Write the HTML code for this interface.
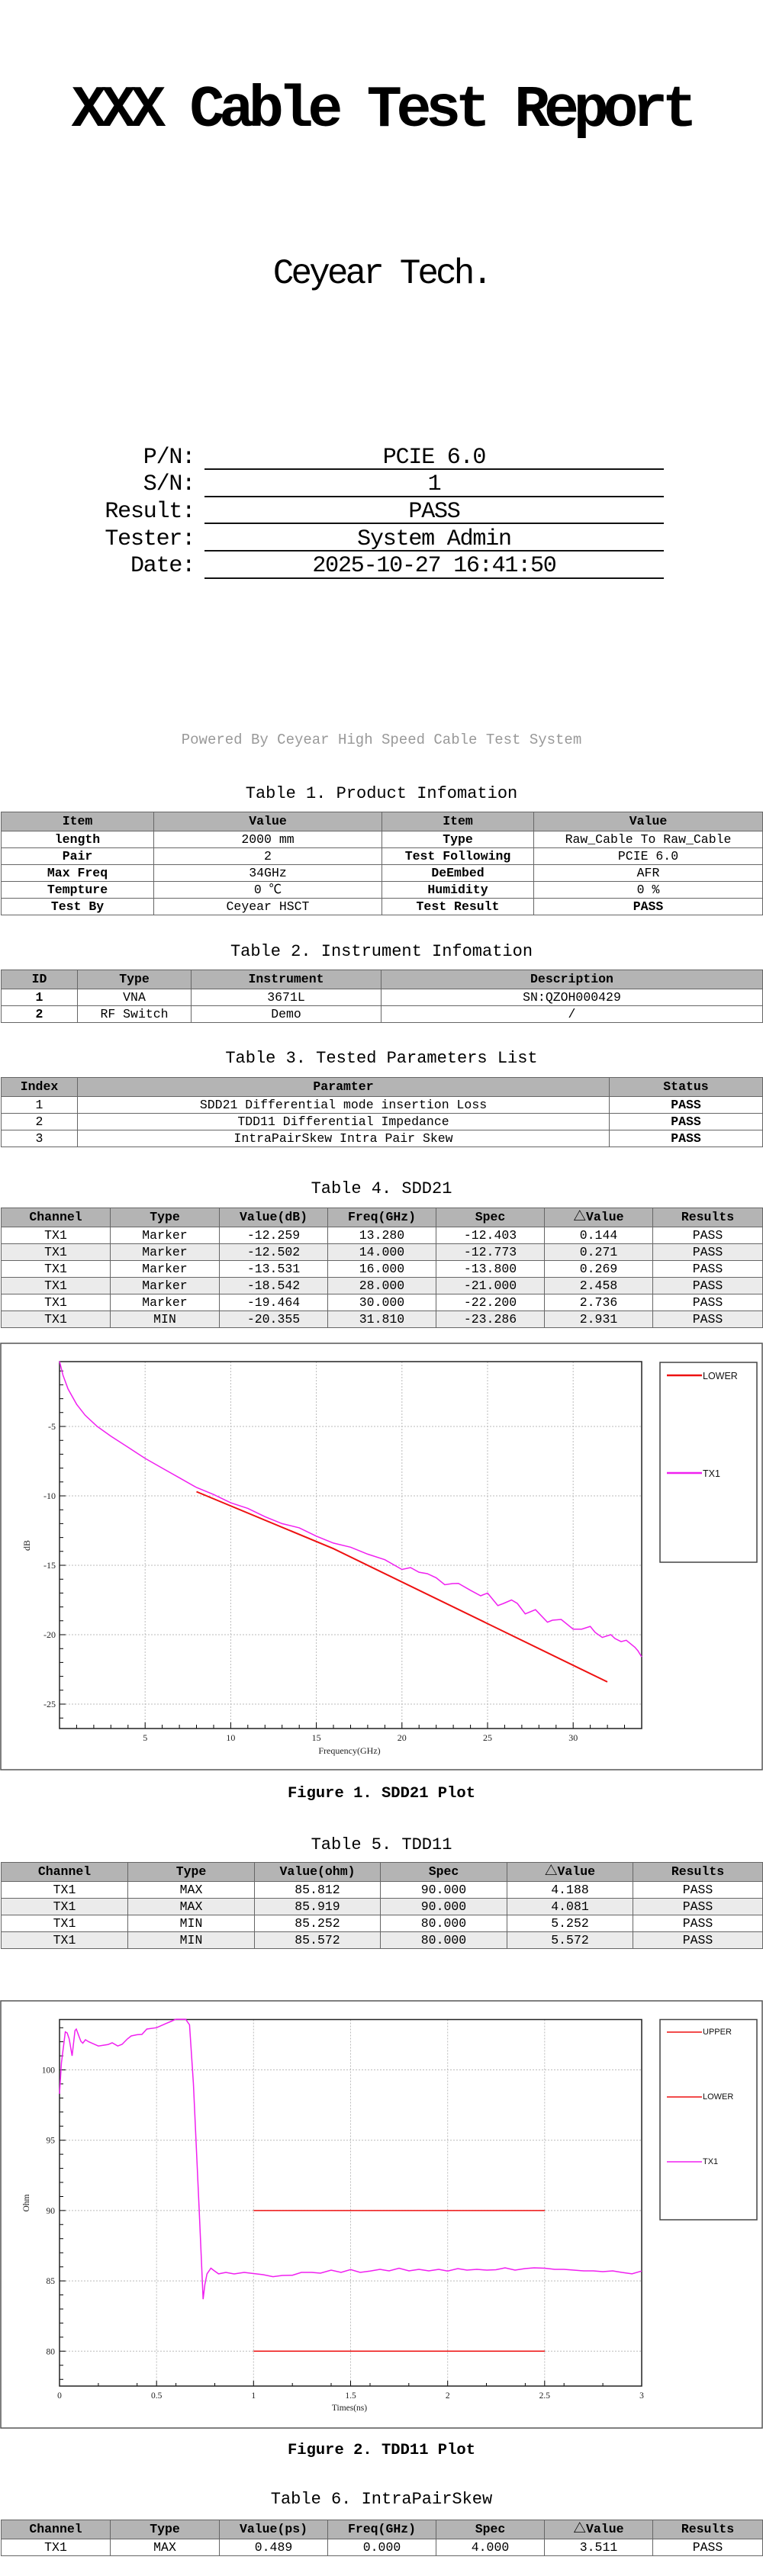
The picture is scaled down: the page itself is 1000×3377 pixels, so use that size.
<!DOCTYPE html>
<html><head><meta charset="utf-8">
<style>
body{margin:0;width:1000px;height:3377px;position:relative;background:#fff;font-family:"Liberation Mono","Noto Sans CJK SC",monospace;color:#000;overflow:hidden}
.a{position:absolute;white-space:nowrap}
.c{left:0;width:1000px;text-align:center}
.cap{font-size:22px;line-height:22px;letter-spacing:0}
.fig{font-size:20.5px;line-height:22px;font-weight:bold}
table{position:absolute;left:1px;width:998px;border-collapse:collapse;table-layout:fixed;font-size:16.5px}
td,th{border:1px solid #666;text-align:center;padding:0;overflow:hidden;white-space:nowrap;line-height:18px}
th{background:#b4b4b4;height:24px;font-weight:bold}
td{height:21px}
tr.g td{background:#ebebeb}
.b{font-weight:bold}
.lab{font-size:30px;line-height:30px;letter-spacing:-1.2px}
.ul{position:absolute;left:268px;width:602px;height:2px;background:#111}
</style></head><body>

<div class="a c" style="top:107px;font-size:77px;line-height:77px;letter-spacing:-7.5px;font-weight:bold">XXX Cable Test Report</div>
<div class="a c" style="top:336px;font-size:46px;line-height:46px;letter-spacing:-3.9px">Ceyear Tech.</div>

<div class="a lab" style="right:745px;top:585px">P/N:</div>
<div class="a lab" style="right:745px;top:620px">S/N:</div>
<div class="a lab" style="right:745px;top:656px">Result:</div>
<div class="a lab" style="right:745px;top:692px">Tester:</div>
<div class="a lab" style="right:745px;top:727px">Date:</div>
<div class="a lab" style="left:268px;width:602px;text-align:center;top:585px">PCIE 6.0</div>
<div class="a lab" style="left:268px;width:602px;text-align:center;top:620px">1</div>
<div class="a lab" style="left:268px;width:602px;text-align:center;top:656px">PASS</div>
<div class="a lab" style="left:268px;width:602px;text-align:center;top:692px">System Admin</div>
<div class="a lab" style="left:268px;width:602px;text-align:center;top:727px">2025-10-27 16:41:50</div>
<div class="ul" style="top:614px"></div>
<div class="ul" style="top:650px"></div>
<div class="ul" style="top:685px"></div>
<div class="ul" style="top:721px"></div>
<div class="ul" style="top:757px"></div>

<div class="a c" style="top:961px;font-size:19px;line-height:19px;color:#999">Powered By Ceyear High Speed Cable Test System</div>

<div class="a c cap" style="top:1030px">Table 1. Product Infomation</div>
<table style="top:1064px">
<colgroup><col style="width:200px"><col style="width:299px"><col style="width:199px"><col style="width:300px"></colgroup>
<tr><th>Item</th><th>Value</th><th>Item</th><th>Value</th></tr>
<tr><td class="b">length</td><td>2000 mm</td><td class="b">Type</td><td>Raw_Cable To Raw_Cable</td></tr>
<tr><td class="b">Pair</td><td>2</td><td class="b">Test Following</td><td>PCIE 6.0</td></tr>
<tr><td class="b">Max Freq</td><td>34GHz</td><td class="b">DeEmbed</td><td>AFR</td></tr>
<tr><td class="b">Tempture</td><td>0 ℃</td><td class="b">Humidity</td><td>0 %</td></tr>
<tr><td class="b">Test By</td><td>Ceyear HSCT</td><td class="b">Test Result</td><td class="b">PASS</td></tr>
</table>

<div class="a c cap" style="top:1237px">Table 2. Instrument Infomation</div>
<table style="top:1271px">
<colgroup><col style="width:100px"><col style="width:149px"><col style="width:249px"><col style="width:500px"></colgroup>
<tr><th>ID</th><th>Type</th><th>Instrument</th><th>Description</th></tr>
<tr><td class="b">1</td><td>VNA</td><td>3671L</td><td>SN:QZOH000429</td></tr>
<tr><td class="b">2</td><td>RF Switch</td><td>Demo</td><td>/</td></tr>
</table>

<div class="a c cap" style="top:1377px">Table 3. Tested Parameters List</div>
<table style="top:1412px">
<colgroup><col style="width:100px"><col style="width:697px"><col style="width:201px"></colgroup>
<tr><th>Index</th><th>Paramter</th><th>Status</th></tr>
<tr><td>1</td><td>SDD21 Differential mode insertion Loss</td><td class="b">PASS</td></tr>
<tr><td>2</td><td>TDD11 Differential Impedance</td><td class="b">PASS</td></tr>
<tr><td>3</td><td>IntraPairSkew Intra Pair Skew</td><td class="b">PASS</td></tr>
</table>

<div class="a c cap" style="top:1548px">Table 4. SDD21</div>
<table style="top:1583px">
<colgroup><col style="width:143px"><col style="width:143px"><col style="width:142px"><col style="width:142px"><col style="width:142px"><col style="width:142px"><col style="width:144px"></colgroup>
<tr><th>Channel</th><th>Type</th><th>Value(dB)</th><th>Freq(GHz)</th><th>Spec</th><th>△Value</th><th>Results</th></tr>
<tr><td>TX1</td><td>Marker</td><td>-12.259</td><td>13.280</td><td>-12.403</td><td>0.144</td><td>PASS</td></tr>
<tr class="g"><td>TX1</td><td>Marker</td><td>-12.502</td><td>14.000</td><td>-12.773</td><td>0.271</td><td>PASS</td></tr>
<tr><td>TX1</td><td>Marker</td><td>-13.531</td><td>16.000</td><td>-13.800</td><td>0.269</td><td>PASS</td></tr>
<tr class="g"><td>TX1</td><td>Marker</td><td>-18.542</td><td>28.000</td><td>-21.000</td><td>2.458</td><td>PASS</td></tr>
<tr><td>TX1</td><td>Marker</td><td>-19.464</td><td>30.000</td><td>-22.200</td><td>2.736</td><td>PASS</td></tr>
<tr class="g"><td>TX1</td><td>MIN</td><td>-20.355</td><td>31.810</td><td>-23.286</td><td>2.931</td><td>PASS</td></tr>
</table>

<svg class="a" style="left:0;top:1760px" width="1000" height="562" font-family="Liberation Sans, sans-serif">
<rect x="1" y="1" width="998" height="559" fill="none" stroke="#555" stroke-width="1.5"/>
<g stroke="#bbb" stroke-dasharray="2,2" stroke-width="1">
<line x1="190.2" y1="25" x2="190.2" y2="506"/><line x1="302.4" y1="25" x2="302.4" y2="506"/><line x1="414.6" y1="25" x2="414.6" y2="506"/><line x1="526.8" y1="25" x2="526.8" y2="506"/><line x1="639" y1="25" x2="639" y2="506"/><line x1="751.2" y1="25" x2="751.2" y2="506"/>
<line x1="78" y1="110" x2="841" y2="110"/><line x1="78" y1="201" x2="841" y2="201"/><line x1="78" y1="292" x2="841" y2="292"/><line x1="78" y1="383" x2="841" y2="383"/><line x1="78" y1="474" x2="841" y2="474"/>
</g>
<g stroke="#000" stroke-width="1">
<path d="M100.4 506v-5M122.9 506v-5M145.3 506v-5M167.8 506v-5M190.2 506v-8M212.6 506v-5M235.1 506v-5M257.5 506v-5M280 506v-5M302.4 506v-8M324.8 506v-5M347.3 506v-5M369.7 506v-5M392.2 506v-5M414.6 506v-8M437 506v-5M459.5 506v-5M481.9 506v-5M504.4 506v-5M526.8 506v-8M549.2 506v-5M571.7 506v-5M594.1 506v-5M616.6 506v-5M639 506v-8M661.4 506v-5M683.9 506v-5M706.3 506v-5M728.8 506v-5M751.2 506v-8M773.6 506v-5M796.1 506v-5M818.5 506v-5"/>
<path d="M78 37.2h5M78 55.4h5M78 73.6h5M78 91.8h5M78 110h8M78 128.2h5M78 146.4h5M78 164.6h5M78 182.8h5M78 201h8M78 219.2h5M78 237.4h5M78 255.6h5M78 273.8h5M78 292h8M78 310.2h5M78 328.4h5M78 346.6h5M78 364.8h5M78 383h8M78 401.2h5M78 419.4h5M78 437.6h5M78 455.8h5M78 474h8M78 492.2h5"/>
</g>
<rect x="78" y="25" width="763" height="481" fill="none" stroke="#222" stroke-width="1.5"/>
<g font-size="12" fill="#222" font-family="Liberation Serif, serif">
<g text-anchor="middle"><text x="190.2" y="522">5</text><text x="302.4" y="522">10</text><text x="414.6" y="522">15</text><text x="526.8" y="522">20</text><text x="639" y="522">25</text><text x="751.2" y="522">30</text>
<text x="458" y="539">Frequency(GHz)</text></g>
<g text-anchor="end"><text x="73" y="114">-5</text><text x="73" y="205">-10</text><text x="73" y="296">-15</text><text x="73" y="387">-20</text><text x="73" y="478">-25</text></g>
<text transform="translate(39,266) rotate(-90)" text-anchor="middle">dB</text>
</g>
<polyline fill="none" stroke="#f020f0" stroke-width="1.5" points="78,24.5 82.5,42.7 89.2,60.9 100.4,80.9 111.7,95.4 127.4,110 145.3,122.7 167.8,137.3 190.2,151.9 212.6,164.6 235.1,177.3 257.5,190 279.9,199.2 302.4,210.1 324.8,217.4 347.3,228.3 369.7,237.4 392.2,242.9 414.6,253.8 437,262.9 459.5,268.3 481.9,277.4 504.4,284.7 526.8,297.5 538,295 549.2,301.1 560,303 571.7,308.4 582.9,317.5 593,316 600.8,315.7 616.6,324.8 630,332 639,328.4 652.5,344.8 660,342 670.4,337.5 678,342 688.4,355.7 701.8,350.2 717.5,366.6 724,364 735.5,363 751.2,375.7 762.4,375.7 773.6,372.1 780,380 789.3,386.6 800.6,383 806,388 814,392.1 820.8,390.3 832,399.4 836,404 841,412.1"/>
<polyline fill="none" stroke="#ee1111" stroke-width="2" points="257.5,195.5 437,270.2 796,444.9"/>
<rect x="865" y="26" width="127" height="262" fill="#fff" stroke="#444" stroke-width="1.5"/>
<line x1="874" y1="43" x2="920" y2="43" stroke="#ee1111" stroke-width="2.5"/>
<text x="921" y="48" font-size="12.5" fill="#111">LOWER</text>
<line x1="874" y1="171" x2="920" y2="171" stroke="#f020f0" stroke-width="2.5"/>
<text x="921" y="176" font-size="12.5" fill="#111">TX1</text>
</svg>

<div class="a c fig" style="top:2341px">Figure 1. SDD21 Plot</div>

<div class="a c cap" style="top:2408px">Table 5. TDD11</div>
<table style="top:2441px">
<colgroup><col style="width:166px"><col style="width:166px"><col style="width:165px"><col style="width:166px"><col style="width:165px"><col style="width:170px"></colgroup>
<tr><th>Channel</th><th>Type</th><th>Value(ohm)</th><th>Spec</th><th>△Value</th><th>Results</th></tr>
<tr><td>TX1</td><td>MAX</td><td>85.812</td><td>90.000</td><td>4.188</td><td>PASS</td></tr>
<tr class="g"><td>TX1</td><td>MAX</td><td>85.919</td><td>90.000</td><td>4.081</td><td>PASS</td></tr>
<tr><td>TX1</td><td>MIN</td><td>85.252</td><td>80.000</td><td>5.252</td><td>PASS</td></tr>
<tr class="g"><td>TX1</td><td>MIN</td><td>85.572</td><td>80.000</td><td>5.572</td><td>PASS</td></tr>
</table>

<svg class="a" style="left:0;top:2620px" width="1000" height="566" font-family="Liberation Sans, sans-serif">
<rect x="1" y="3" width="998" height="560" fill="none" stroke="#555" stroke-width="1.5"/>
<g stroke="#bbb" stroke-dasharray="2,2" stroke-width="1">
<line x1="205.2" y1="27.5" x2="205.2" y2="508"/><line x1="332.3" y1="27.5" x2="332.3" y2="508"/><line x1="459.5" y1="27.5" x2="459.5" y2="508"/><line x1="586.7" y1="27.5" x2="586.7" y2="508"/><line x1="713.8" y1="27.5" x2="713.8" y2="508"/>
<line x1="78" y1="93.5" x2="841" y2="93.5"/><line x1="78" y1="185.7" x2="841" y2="185.7"/><line x1="78" y1="277.9" x2="841" y2="277.9"/><line x1="78" y1="370.1" x2="841" y2="370.1"/><line x1="78" y1="462.3" x2="841" y2="462.3"/>
</g>
<g stroke="#000" stroke-width="1">
<path d="M128.9 508v-4M179.7 508v-4M205.2 508v-7M230.6 508v-4M281.5 508v-4M332.3 508v-7M383.2 508v-4M434 508v-4M459.5 508v-7M485 508v-4M535.8 508v-4M586.7 508v-7M637.5 508v-4M688.4 508v-4M713.8 508v-7M739.2 508v-4M790.1 508v-4"/>
<path d="M78 38.2h5M78 56.6h5M78 75.1h5M78 93.5h8M78 111.9h5M78 130.4h5M78 148.8h5M78 167.3h5M78 185.7h8M78 204.1h5M78 222.6h5M78 241h5M78 259.5h5M78 277.9h8M78 296.3h5M78 314.8h5M78 333.2h5M78 351.7h5M78 370.1h8M78 388.5h5M78 407h5M78 425.4h5M78 443.9h5M78 462.3h8M78 480.7h5M78 499.2h5"/>
</g>
<rect x="78" y="27.5" width="763" height="480.5" fill="none" stroke="#222" stroke-width="1.5"/>
<g font-size="11.5" fill="#222" font-family="Liberation Serif, serif">
<g text-anchor="middle"><text x="78" y="524">0</text><text x="205.2" y="524">0.5</text><text x="332.3" y="524">1</text><text x="459.5" y="524">1.5</text><text x="586.7" y="524">2</text><text x="713.8" y="524">2.5</text><text x="841" y="524">3</text>
<text x="458" y="540">Times(ns)</text></g>
<g text-anchor="end"><text x="72" y="97.5">100</text><text x="72" y="189.7">95</text><text x="72" y="281.9">90</text><text x="72" y="374.1">85</text><text x="72" y="466.3">80</text></g>
<text transform="translate(38,268) rotate(-90)" text-anchor="middle">Ohm</text>
</g>
<line x1="332.3" y1="277.9" x2="714" y2="277.9" stroke="#ee1111" stroke-width="1.5"/>
<line x1="332.3" y1="462.3" x2="714" y2="462.3" stroke="#ee1111" stroke-width="1.5"/>
<polyline fill="none" stroke="#f020f0" stroke-width="1.5" points="78,124.8 80.5,84.3 85.6,43.7 88,45 90.7,52.9 94.5,75.1 98.3,41.9 100,40 103.4,49.2 106,56 108.5,58.5 112,54 116.2,56.6 128.9,62.2 141.6,60.3 147,58 154.3,62.2 160,60 167,52.9 172,49 179.7,47.4 186,47 192.4,40 205.2,38.2 217.9,32.6 224,30 230.6,27.1 243.3,27.1 248.4,34.5 253.5,111.9 261.1,277.9 266.2,394.1 268.5,375 271.3,360.9 276.4,353.5 281,357 286.5,360.9 296,359 306.9,361 320,359 332.3,360.5 345,362 357.8,364.6 370,363 383.2,362.7 395,359 408.6,359 420,360 434,356 447,359 459.5,355.3 472,359 485,357.2 498,355 510,357 523,353.5 536,357 549,355 562,357 575,355 586.7,357.2 600,354 612,356 625,355 638,356 650,355.5 662,353 675,356 688,354 700,353 714,353.5 727,355 739,355 752,356 765,357 777.5,357 790,358 803,357 815,359 828.3,360.9 841,357.2"/>
<rect x="865" y="27.5" width="127" height="262.5" fill="#fff" stroke="#444" stroke-width="1.5"/>
<line x1="874" y1="44" x2="920" y2="44" stroke="#ee1111" stroke-width="1.5"/>
<text x="921" y="47" font-size="11" fill="#111">UPPER</text>
<line x1="874" y1="129" x2="920" y2="129" stroke="#ee1111" stroke-width="1.5"/>
<text x="921" y="132" font-size="11" fill="#111">LOWER</text>
<line x1="874" y1="214" x2="920" y2="214" stroke="#f020f0" stroke-width="1.5"/>
<text x="921" y="217" font-size="11" fill="#111">TX1</text>
</svg>

<div class="a c fig" style="top:3202px">Figure 2. TDD11 Plot</div>

<div class="a c cap" style="top:3266px">Table 6. IntraPairSkew</div>
<table style="top:3303px">
<colgroup><col style="width:143px"><col style="width:143px"><col style="width:142px"><col style="width:142px"><col style="width:142px"><col style="width:142px"><col style="width:144px"></colgroup>
<tr><th>Channel</th><th>Type</th><th>Value(ps)</th><th>Freq(GHz)</th><th>Spec</th><th>△Value</th><th>Results</th></tr>
<tr><td>TX1</td><td>MAX</td><td>0.489</td><td>0.000</td><td>4.000</td><td>3.511</td><td>PASS</td></tr>
</table>
</body></html>
